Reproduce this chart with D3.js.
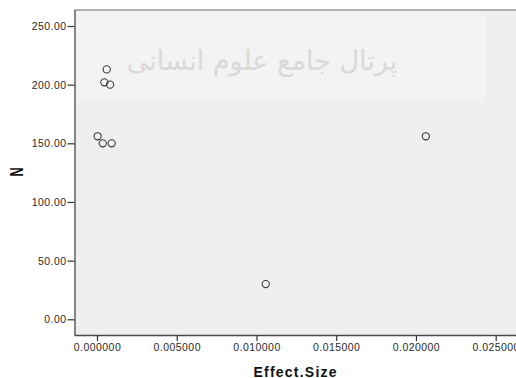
<!DOCTYPE html>
<html>
<head>
<meta charset="utf-8">
<script src="https://cdn.jsdelivr.net/npm/d3@7"></script>
<style>
  html, body { margin: 0; padding: 0; background: #fff; }
  svg { display: block; }
</style>
</head>
<body>
<svg id="chart" width="516" height="378"></svg>
<script>
// Effect size vs. sample size (N)
const effectSize = [0.00061, 0.00046, 0.00082, 0.00004, 0.00036, 0.00092, 0.01058, 0.02062];
const sampleN    = [213, 202, 200, 156, 150, 150, 30, 156];
const xTicks = [0, 0.005, 0.010, 0.015, 0.020, 0.025];
const yTicks = [0, 50, 100, 150, 200, 250];

const svg = d3.select("#chart");
const W = 516, H = 378;

const x = d3.scaleLinear().domain([0, 0.025]).range([97, 495.7]);
const y = d3.scaleLinear().domain([0, 250]).range([319.3, 26]);

const plot = { left: 74.5, top: 10, right: W + 2, bottom: 335 };

// plot background
svg.append("rect")
  .attr("x", plot.left).attr("y", plot.top)
  .attr("width", plot.right - plot.left).attr("height", plot.bottom - plot.top)
  .attr("fill", "#efefef");

// faint watermark band
svg.append("rect")
  .attr("x", plot.left + 0.5).attr("y", plot.top + 1)
  .attr("width", 485 - plot.left).attr("height", 91)
  .attr("fill", "#f3f3f3");
svg.append("text")
  .attr("x", 262).attr("y", 70)
  .attr("text-anchor", "middle")
  .attr("font-family", "DejaVu Sans, Noto Sans, sans-serif")
  .attr("font-size", 27)
  .attr("fill", "#d9d9d9")
  .attr("direction", "rtl")
  .text("پرتال جامع علوم انسانی");

// top frame line
svg.append("line")
  .attr("x1", plot.left).attr("x2", W).attr("y1", plot.top).attr("y2", plot.top)
  .attr("stroke", "#6a6a6a").attr("stroke-width", 1);

const xAxis = d3.axisBottom(x).tickValues(xTicks).tickFormat(d3.format(".6f"))
  .tickSizeInner(6).tickSizeOuter(0).tickPadding(3);
const yAxis = d3.axisLeft(y).tickValues(yTicks).tickFormat(d3.format(".2f"))
  .tickSizeInner(7).tickSizeOuter(0).tickPadding(1);

const gx = svg.append("g").attr("transform", `translate(0,${plot.bottom})`).call(xAxis);
gx.select(".domain").attr("d", `M${plot.left},0.5H${W}`);
const gy = svg.append("g").attr("transform", `translate(${plot.left},0)`).call(yAxis);
gy.select(".domain").attr("d", `M0.5,${plot.top}V${plot.bottom}`);

[gx, gy].forEach(g => {
  g.select(".domain").attr("stroke", "#4a4a4a").attr("stroke-width", 1.3);
  g.selectAll(".tick line").attr("stroke", "#333").attr("stroke-width", 1.2);
  g.selectAll(".tick text")
    .attr("font-family", "Liberation Sans, Arial, sans-serif")
    .attr("font-size", 10.5).attr("letter-spacing", 0.45).attr("fill", "#2a2a2a");
});

// points
svg.append("g").selectAll("circle")
  .data(effectSize.map((v, i) => ({ x: v, n: sampleN[i] })))
  .join("circle")
  .attr("cx", d => x(d.x)).attr("cy", d => y(d.n))
  .attr("r", 3.6)
  .attr("fill", "none")
  .attr("stroke", "#3a3a3a")
  .attr("stroke-width", 1.1);

// axis titles
svg.append("text")
  .attr("x", 295).attr("y", 376.5)
  .attr("text-anchor", "middle")
  .attr("font-family", "Liberation Sans, Arial, sans-serif")
  .attr("font-weight", "bold").attr("font-size", 14).attr("fill", "#111")
  .attr("textLength", 83).attr("lengthAdjust", "spacing")
  .text("Effect.Size");

svg.append("text")
  .attr("transform", "translate(23,172) rotate(-90) scale(0.9,1.3)")
  .attr("text-anchor", "middle")
  .attr("font-family", "Liberation Sans, Arial, sans-serif")
  .attr("font-weight", "bold").attr("font-size", 14).attr("fill", "#111")
  .text("N");
</script>
</body>
</html>
